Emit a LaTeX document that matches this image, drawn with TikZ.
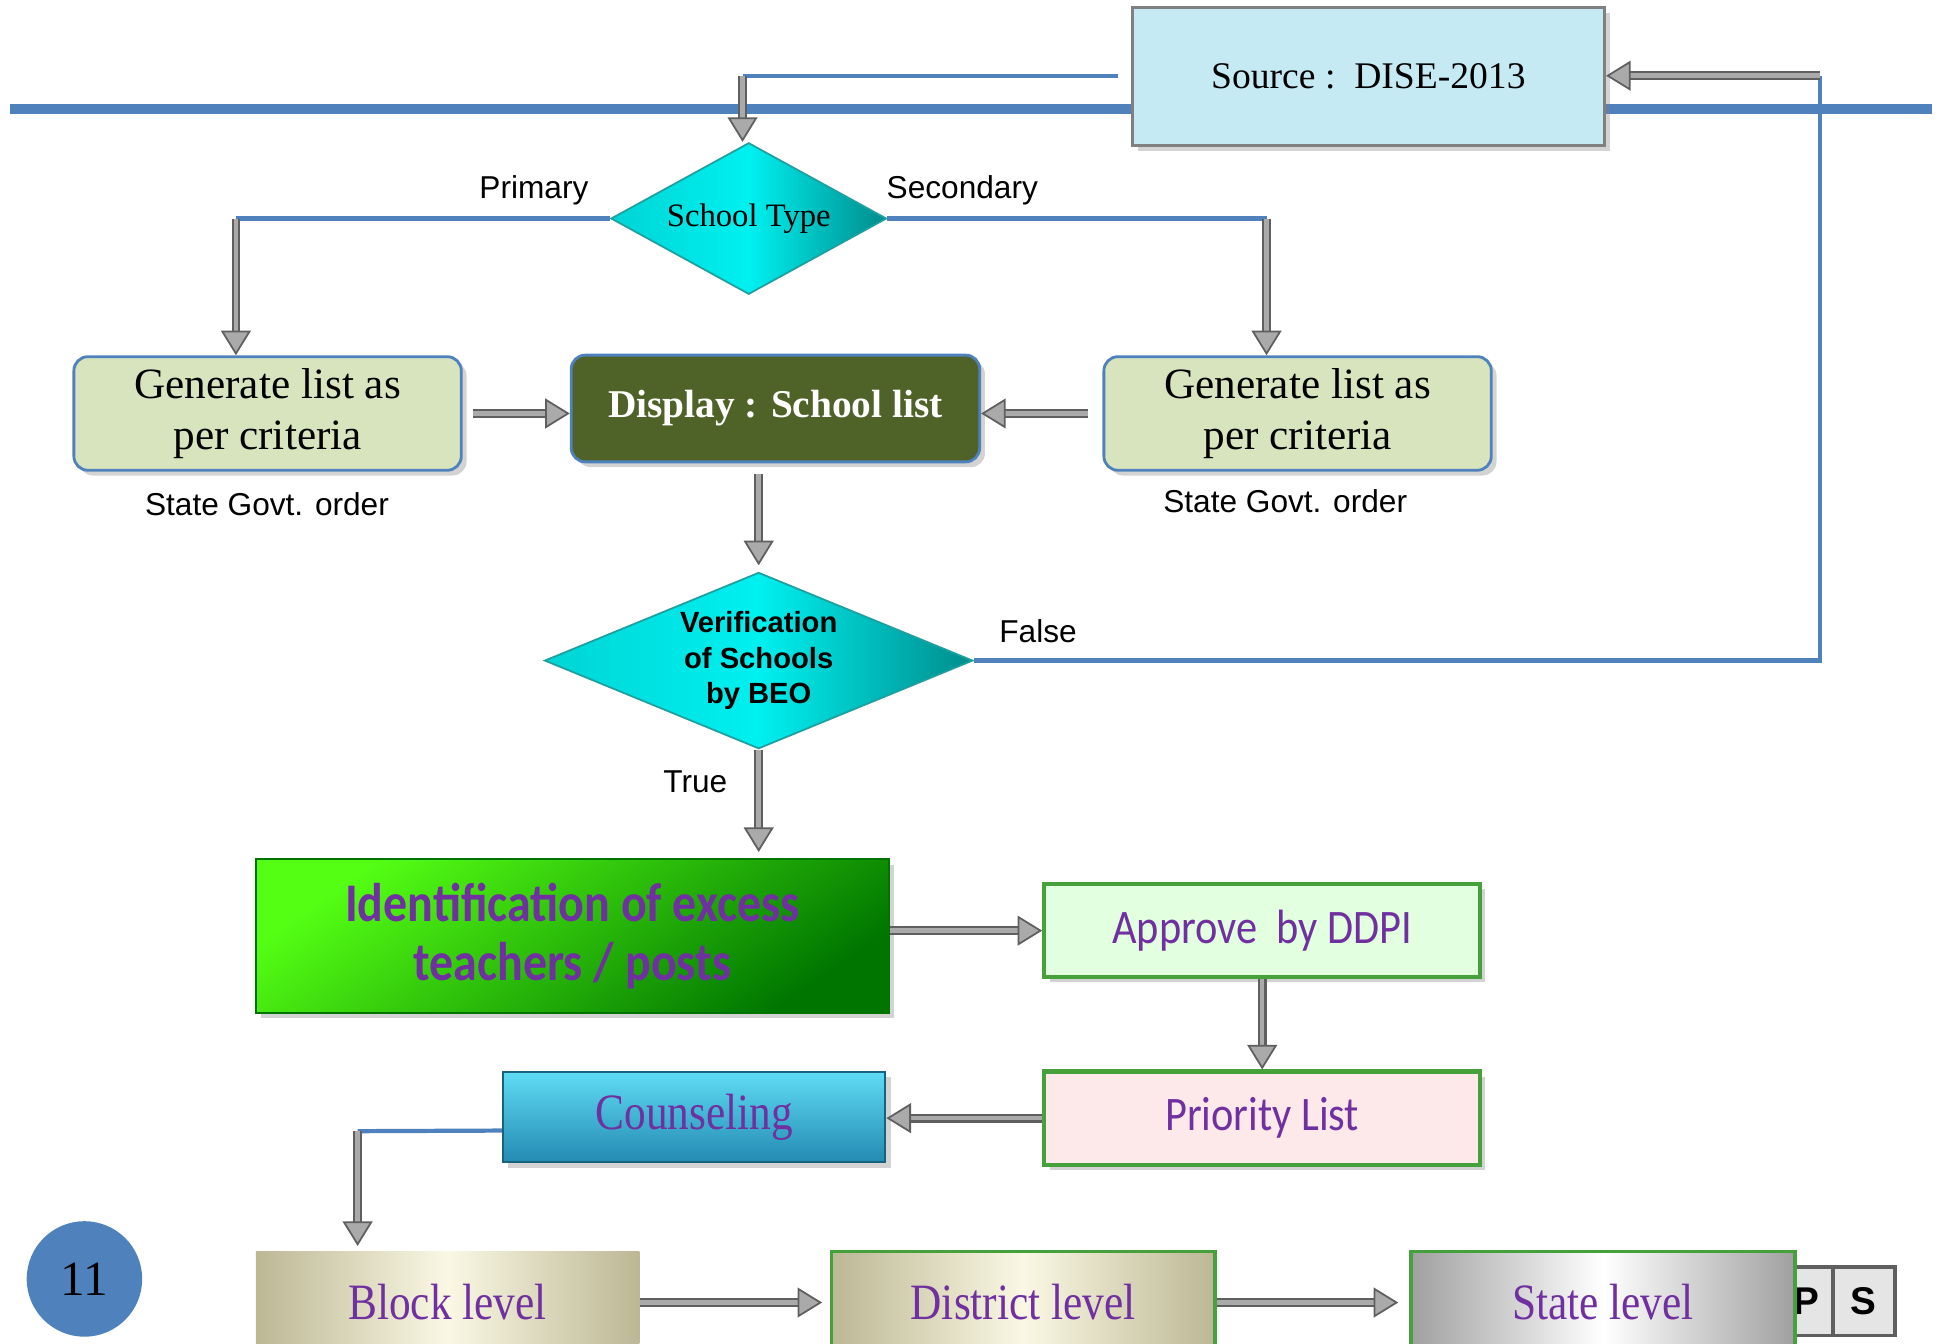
\documentclass[tikz,border=0pt]{standalone}
\usepackage{fontspec}
\setmainfont{Liberation Serif}
\setsansfont{Liberation Sans}
\newfontfamily\calfont[FakeStretch=0.88]{Carlito}
\newfontfamily\narrowfont[FakeStretch=0.85]{Liberation Serif}
\usepackage{tikz}
\usetikzlibrary{arrows.meta,positioning,shapes.geometric,shadows,calc}

\definecolor{lineblue}{RGB}{79,129,189}
\definecolor{srcfill}{RGB}{198,234,244}
\definecolor{genfill}{RGB}{215,228,189}
\definecolor{dispfill}{RGB}{79,98,40}
\definecolor{dmdA}{RGB}{0,212,212}
\definecolor{dmdB}{RGB}{0,240,240}
\definecolor{dmdC}{RGB}{0,140,140}
\definecolor{dmdline}{RGB}{30,160,160}
\definecolor{idA}{RGB}{85,255,20}
\definecolor{idB}{RGB}{0,118,0}
\definecolor{txtpurple}{RGB}{112,48,160}
\definecolor{okfill}{RGB}{226,255,224}
\definecolor{prifill}{RGB}{253,233,233}
\definecolor{boxgreen}{RGB}{70,160,60}
\definecolor{cnsA}{RGB}{95,220,245}
\definecolor{cnsB}{RGB}{36,138,178}
\definecolor{lvlA}{RGB}{188,183,148}
\definecolor{lvlB}{RGB}{250,248,228}
\definecolor{stA}{RGB}{160,160,160}
\definecolor{pipefill}{RGB}{170,170,170}
\definecolor{pipeedge}{RGB}{95,95,95}

\def\pxu{0.3533pt}

\begin{document}
\begin{tikzpicture}[x=0.3533pt, y=-0.3533pt,
	bline/.style={draw=lineblue, line width=1.2pt},
	pipe/.style={draw=pipefill, line width=1.3pt,
		preaction={draw=pipeedge, line width=2.5pt, -, shorten >=5pt},
		-{Triangle[length=7pt, width=8.5pt, color=pipeedge, fill=pipefill, line width=0.5pt]}},
	boxshadow/.style={drop shadow={opacity=0.35, shadow xshift=1.5pt, shadow yshift=-1.5pt}},
	genbox/.style={rectangle, rounded corners=4pt, draw=lineblue, line width=0.8pt, fill=genfill,
		minimum width=312*\pxu, minimum height=86*\pxu, align=center, boxshadow,
		font=\fontsize{12.3}{14.5}\selectfont},
	decision/.style={diamond, draw=dmdline, line width=0.5pt, inner sep=0pt,
		left color=dmdA, right color=dmdC, middle color=dmdB, align=center},
	greenbox/.style={rectangle, draw=boxgreen, line width=1.2pt, minimum width=351*\pxu,
		minimum height=75*\pxu, text=txtpurple, boxshadow, font=\calfont\fontsize{13.7}{16}\selectfont},
	levelbox/.style={rectangle, minimum width=309*\pxu, minimum height=82*\pxu, text=txtpurple,
		font=\narrowfont\fontsize{14.5}{17}\selectfont},
	note/.style={font=\sffamily\fontsize{9}{11}\selectfont},
	tabkey/.style={rectangle, draw=pipeedge, line width=1pt, fill=gray!20, minimum width=42*\pxu,
		minimum height=55*\pxu, font=\sffamily\bfseries\fontsize{11}{13}\selectfont}]

\useasboundingbox (0,0) rectangle (1568,1082);
\clip (0,0) rectangle (1568,1082);

% top bar
\draw[draw=lineblue, line width=8*\pxu] (8,88) -- (1556,88);

% nodes
\node at (1102,61.5) [rectangle, draw=gray, line width=1pt, fill=srcfill, minimum width=380*\pxu,
	minimum height=111*\pxu, boxshadow, font=\fontsize{10.7}{13}\selectfont] (src) {Source :\ \ DISE-2013};
\node at (603,176) [decision, aspect=1.82, minimum width=222*\pxu, minimum height=122*\pxu,
	font=\fontsize{9.3}{11}\selectfont] (stype) {School Type};
\node at (215.5,333) [genbox] (genL) {Generate list as\\per criteria};
\node at (1045,333) [genbox] (genR) {Generate list as\\per criteria};
\node at (624.5,329) [rectangle, rounded corners=4pt, draw=lineblue, line width=0.8pt, fill=dispfill,
	minimum width=329*\pxu, minimum height=86*\pxu, text=white, boxshadow,
	font=\bfseries\fontsize{11.2}{13}\selectfont] (disp) {Display : School list};
\node at (611,532) [decision, aspect=2.43, minimum width=345*\pxu, minimum height=142*\pxu,
	font=\sffamily\bfseries\fontsize{8.3}{10}\selectfont] (verify) {Verification\\of Schools\\by BEO};
\node at (461,754) [rectangle, draw=green!45!black, line width=0.6pt, top color=idA, bottom color=idB,
	shading angle=35, minimum width=510*\pxu, minimum height=124*\pxu, align=center, text=txtpurple,
	boxshadow, font=\calfont\bfseries\fontsize{15.5}{16.6}\selectfont] (ident) {Identification of excess\\teachers / posts};
\node at (1016.5,749.5) [greenbox, fill=okfill] (approve) {Approve\ \ by DDPI};
\node at (1016.5,900.5) [greenbox, fill=prifill] (prio) {Priority List};
\node at (559,899.5) [rectangle, draw=cnsB!70!black, line width=0.6pt, top color=cnsA, bottom color=cnsB,
	minimum width=308*\pxu, minimum height=73*\pxu, text=txtpurple, boxshadow,
	font=\narrowfont\fontsize{14.5}{17}\selectfont] (couns) {Counseling};
\node at (360.5,1049) [levelbox, left color=lvlA, right color=lvlA, middle color=lvlB] (block) {Block level};
\node at (824,1049) [levelbox, draw=boxgreen, line width=1pt, left color=lvlA, right color=lvlA,
	middle color=lvlB] (dist) {District level};
\node at (1455,1048) [tabkey] (ptab) {P};
\node at (1501,1048) [tabkey, minimum width=50*\pxu] (stab) {S};
\node at (1291,1049) [levelbox, draw=boxgreen, line width=1pt, left color=stA, right color=stA,
	middle color=white] (state) {State level};
\node at (68,1030) [circle, fill=lineblue, minimum size=93*\pxu, font=\fontsize{14}{16}\selectfont] (page) {11};

% labels
\node at (430,153) [note] (lprim) {Primary};
\node at (775,153) [note] (lsec) {Secondary};
\node at (215,406) [note] (lordL) {State Govt. order};
\node at (1035,404) [note] (lordR) {State Govt. order};
\node at (836,508) [note] (lfalse) {False};
\node at (560,630) [note] (ltrue) {True};

% connectors
\coordinate (k1) at (598,61.5);
\draw[bline, shorten <=10*\pxu] (src.west) -- (k1);
\draw[pipe] (k1) -- (k1 |- stype.north);
\coordinate (k2) at (190,176);
\draw[bline] (stype.west) -- (k2);
\draw[pipe] (k2) -- (k2 |- genL.north);
\coordinate (k3) at (1020,176);
\draw[bline] (stype.east) -- (k3);
\draw[pipe] (k3) -- (k3 |- genR.north);
\draw[pipe, shorten <=8*\pxu] (genL.east) -- (genL.east -| disp.west);
\draw[pipe, shorten <=12*\pxu] (genR.west) -- (genR.west -| disp.east);
\draw[pipe, shorten <=9*\pxu] (verify.north |- disp.south) -- ([yshift=5*\pxu]verify.north);
\coordinate (k6) at (1466,61);
\draw[bline] (verify.east) -| (k6);
\draw[pipe] (k6) -- (k6 -| src.east);
\draw[pipe] (verify.south) -- ([yshift=5*\pxu]verify.south |- ident.north);
\draw[pipe] (ident.east |- approve.west) -- (approve.west);
\draw[pipe] (approve.south) -- (prio.north);
\draw[pipe] (prio.west) -- (prio.west -| couns.east);
\coordinate (k7) at (288,911);
\draw[bline] ([yshift=-11*\pxu]couns.west) -- (k7);
\draw[pipe] (k7) -- ([yshift=4*\pxu]k7 |- block.north);
\draw[pipe] (block.east) -- ([xshift=-6*\pxu]dist.west);
\draw[pipe] (dist.east) -- ([xshift=-9*\pxu]state.west);
\end{tikzpicture}
\end{document}
